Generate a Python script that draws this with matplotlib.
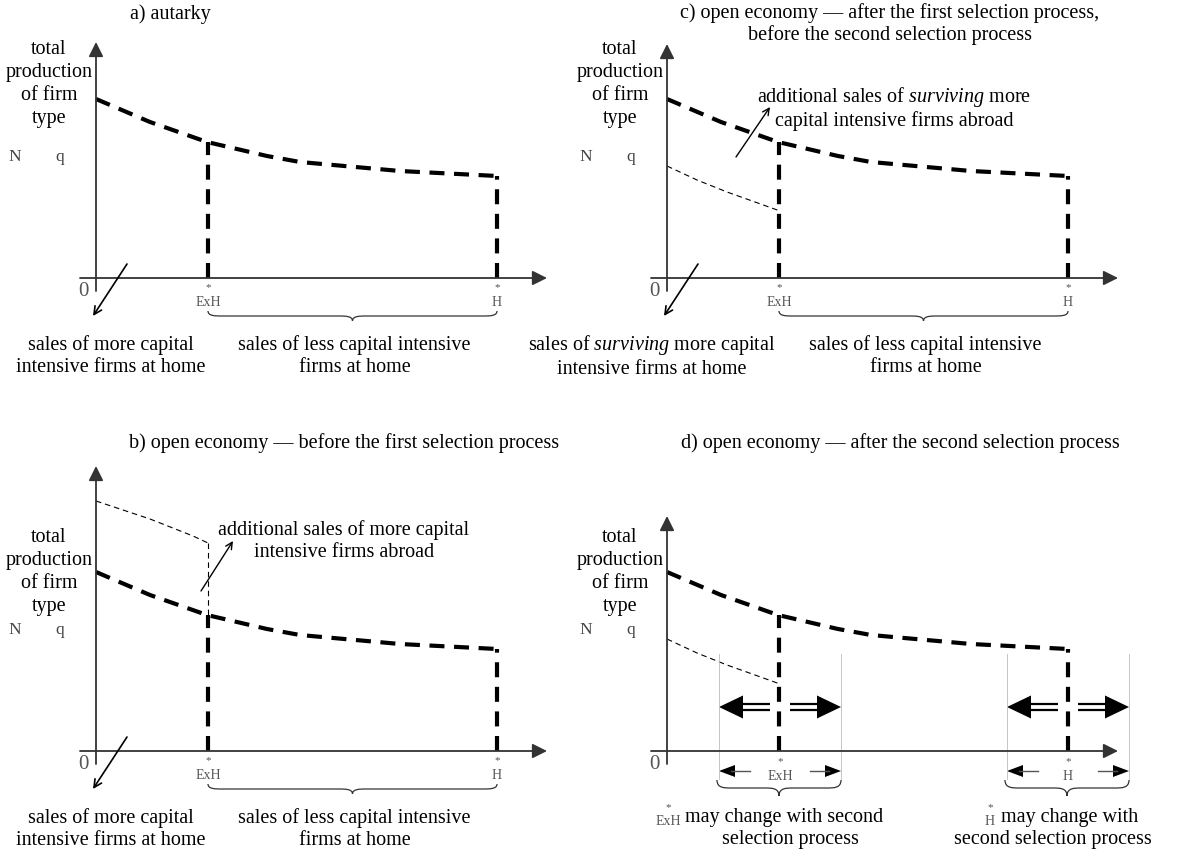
import matplotlib.pyplot as plt
from matplotlib.path import Path
from matplotlib.patches import PathPatch

plt.rcParams['font.family'] = ['Liberation Serif', 'DejaVu Serif']
plt.rcParams['mathtext.fontset'] = 'custom'
plt.rcParams['mathtext.rm'] = 'Liberation Serif'
plt.rcParams['mathtext.it'] = 'Liberation Serif:italic'

# curves in local units (x right of the origin, y above the axis)
curve_x = [0, 54, 111, 171, 204, 304, 401]
curve_y = [179, 156, 136, 122, 116, 107, 102]
thin_b_x = [0, 54, 97, 112]
thin_b_y = [250, 232, 215, 208]
thin_cd_x = [0, 30, 60, 88, 113]
thin_cd_y = [112, 98, 86, 76, 67]
exh_x = 112
h_x = 401
shift = 61   # how far the cutoffs may move in panel d

origins = {'a': (96, 279), 'b': (96, 752), 'c': (667, 279), 'd': (667, 752)}
yaxis_top = {'a': 236, 'b': 285, 'c': 234, 'd': 235}
label_top = {'a': 229, 'b': 214, 'c': 229, 'd': 214}

titles = {
    'a': (170, 14, 'a) autarky'),
    'c': (890, 24, 'c) open economy \u2014 after the first selection process,\nbefore the second selection process'),
    'b': (344, 443, 'b) open economy \u2014 before the first selection process'),
    'd': (900, 443, 'd) open economy \u2014 after the second selection process'),
}

FS = 14.5
LS = 1.2

fig = plt.figure(figsize=(11.79, 8.62), dpi=100)
ax = fig.add_axes([0, 0, 1, 1])
ax.set_xlim(0, 1179)
ax.set_ylim(862, 0)
ax.axis('off')

AX_C = '#333333'
GRAY = '#555555'


def P(key, x, y):
    ox, oy = origins[key]
    return ox + x, oy - y


def arrow(p0, p1, color='black', lw=1.3, ms=22, style='-|>'):
    ax.annotate('', xy=p1, xytext=p0,
                arrowprops=dict(arrowstyle=style, color=color, lw=lw,
                                mutation_scale=ms, shrinkA=0, shrinkB=0))


def brace(x0, x1, ytop, depth=10, color='#333333'):
    xm = (x0 + x1) / 2
    h = depth / 2
    r = min(14, (x1 - x0) / 6)
    verts = [(x0, ytop), (x0, ytop + h), (x0 + r / 2, ytop + h), (x0 + r, ytop + h),
             (xm - r, ytop + h), (xm - r / 2, ytop + h), (xm, ytop + h), (xm, ytop + depth),
             (xm, ytop + depth), (xm, ytop + h), (xm + r / 2, ytop + h), (xm + r, ytop + h),
             (x1 - r, ytop + h), (x1 - r / 2, ytop + h), (x1, ytop + h), (x1, ytop)]
    codes = [Path.MOVETO, Path.CURVE4, Path.CURVE4, Path.CURVE4,
             Path.LINETO, Path.CURVE4, Path.CURVE4, Path.CURVE4,
             Path.MOVETO, Path.CURVE4, Path.CURVE4, Path.CURVE4,
             Path.LINETO, Path.CURVE4, Path.CURVE4, Path.CURVE4]
    ax.add_patch(PathPatch(Path(verts, codes), fill=False, lw=0.9, color=color))


def thick_dash(xs, ys, key):
    pts = [P(key, x, y) for x, y in zip(xs, ys)]
    ax.plot([p[0] for p in pts], [p[1] for p in pts], color='black', lw=3,
            dashes=(3.6, 2.3), solid_capstyle='butt', dash_capstyle='butt')


def thin_dash(xs, ys, key):
    pts = [P(key, x, y) for x, y in zip(xs, ys)]
    ax.plot([p[0] for p in pts], [p[1] for p in pts], color='black', lw=0.8,
            dashes=(5, 3.5))


def star_label(key, x, name, y_star=-9, y_name=-24):
    px, py = P(key, x, y_star)
    ax.text(px, py, '*', ha='center', va='center', fontsize=8, color=GRAY)
    px, py = P(key, x, y_name)
    ax.text(px, py, name, ha='center', va='center', fontsize=10, color=GRAY)


for key in 'abcd':
    # axes
    arrow(P(key, 0, -13), P(key, 0, yaxis_top[key]), color=AX_C)
    arrow(P(key, -16, 0), P(key, 451, 0), color=AX_C)
    ox, oy = origins[key]
    ax.text(ox - 13, oy + 13, '0', ha='center', va='center', fontsize=15, color=GRAY)
    # y label
    lt = label_top[key]
    for i, line in enumerate(['total', 'production', 'of firm', 'type']):
        px, py = P(key, -47, lt - 23 * i)
        ax.text(px, py, line, ha='center', va='center', fontsize=FS)
    px, py = P(key, -81, 122)
    ax.text(px, py, 'N', ha='center', va='center', fontsize=12.5, color='#444444')
    px, py = P(key, -36, 122)
    ax.text(px, py, 'q', ha='center', va='center', fontsize=12.5, color='#444444')
    # thick curve and cutoffs
    thick_dash(curve_x, curve_y, key)
    thick_dash([exh_x, exh_x], [0, curve_y[2]], key)
    thick_dash([h_x, h_x], [0, curve_y[-1]], key)
    # title
    tx, ty, tt = titles[key]
    ax.text(tx, ty, tt, ha='center', va='center', fontsize=FS, linespacing=LS)

# cutoff labels for a, b, c
for key in 'abc':
    star_label(key, exh_x, 'ExH')
    star_label(key, h_x, 'H')
    arrow(P(key, 31, 14), P(key, -3, -38), color='black', lw=1.2, ms=14, style='->')
    ox, oy = origins[key]
    brace(ox + exh_x, ox + h_x, oy + 33, depth=10)

bottom_left = {
    'a': ('sales of more capital\nintensive firms at home', 111),
    'b': ('sales of more capital\nintensive firms at home', 111),
    'c': ('sales of $\\mathit{surviving}$ more capital\nintensive firms at home', 652),
}
for key, (txt, cx) in bottom_left.items():
    oy = origins[key][1]
    ax.text(cx, oy + 77, txt, ha='center', va='center', fontsize=FS, linespacing=LS)
    ax.text(origins[key][0] + (exh_x + h_x) / 2 + 2, oy + 77,
            'sales of less capital intensive\nfirms at home',
            ha='center', va='center', fontsize=FS, linespacing=LS)

# panel b: extra abroad sales
thin_dash(thin_b_x, thin_b_y, 'b')
thin_dash([exh_x, exh_x], [thin_b_y[-1], curve_y[2]], 'b')
arrow(P('b', 105, 160), P('b', 137, 210), lw=1.0, ms=12, style='->')
ax.text(344, 541, 'additional sales of more capital\nintensive firms abroad',
        ha='center', va='center', fontsize=FS, linespacing=LS)

# panel c: surviving firms abroad
thin_dash(thin_cd_x, thin_cd_y, 'c')
arrow(P('c', 69, 121), P('c', 103, 171), lw=1.0, ms=12, style='->')
ax.text(894, 108, 'additional sales of $\\mathit{surviving}$ more\ncapital intensive firms abroad',
        ha='center', va='center', fontsize=FS, linespacing=LS)

# panel d: cutoffs may move
thin_dash(thin_cd_x, thin_cd_y, 'd')
star_label('d', exh_x + 1, 'ExH', y_star=-10, y_name=-25)
star_label('d', h_x, 'H', y_star=-10, y_name=-25)
ox, oy = origins['d']
for c in [exh_x + 1, h_x]:
    for s in (-1, 1):
        xe = c + s * shift
        # thin guide lines
        ax.plot([ox + xe, ox + xe], [oy - 97, oy + 28], color='#bbbbbb', lw=0.6)
        # big double-line arrows
        x_base = xe - s * 24
        x_end = c + s * 10
        for dy in (-3, 3):
            ax.plot([ox + x_end, ox + x_base], [oy - 44 + dy, oy - 44 + dy],
                    color='black', lw=1.6, solid_capstyle='butt')
        ax.fill([ox + xe, ox + x_base, ox + x_base],
                [oy - 44, oy - 44 - 11.5, oy - 44 + 11.5], color='black', lw=0)
        # small arrows under the axis
        ax.plot([ox + c + s * 30, ox + xe - s * 12], [oy + 20, oy + 20], color='#555555', lw=1.0)
        ax.fill([ox + xe, ox + xe - s * 16, ox + xe - s * 16],
                [oy + 20, oy + 20 - 6, oy + 20 + 6], color='black', lw=0)
    brace(ox + c - shift - 2, ox + c + shift, oy + 29, depth=16)

ax.text(668, 808, '*', ha='center', va='center', fontsize=8, color=GRAY)
ax.text(668, 822, 'ExH', ha='center', va='center', fontsize=10, color=GRAY)
ax.text(883, 818, 'may change with second', ha='right', va='center', fontsize=FS)
ax.text(790, 840, 'selection process', ha='center', va='center', fontsize=FS)
ax.text(990, 808, '*', ha='center', va='center', fontsize=8, color=GRAY)
ax.text(990, 822, 'H', ha='center', va='center', fontsize=10, color=GRAY)
ax.text(1138, 818, 'may change with', ha='right', va='center', fontsize=FS)
ax.text(1152, 840, 'second selection process', ha='right', va='center', fontsize=FS)

plt.savefig('out.png', dpi=100)
